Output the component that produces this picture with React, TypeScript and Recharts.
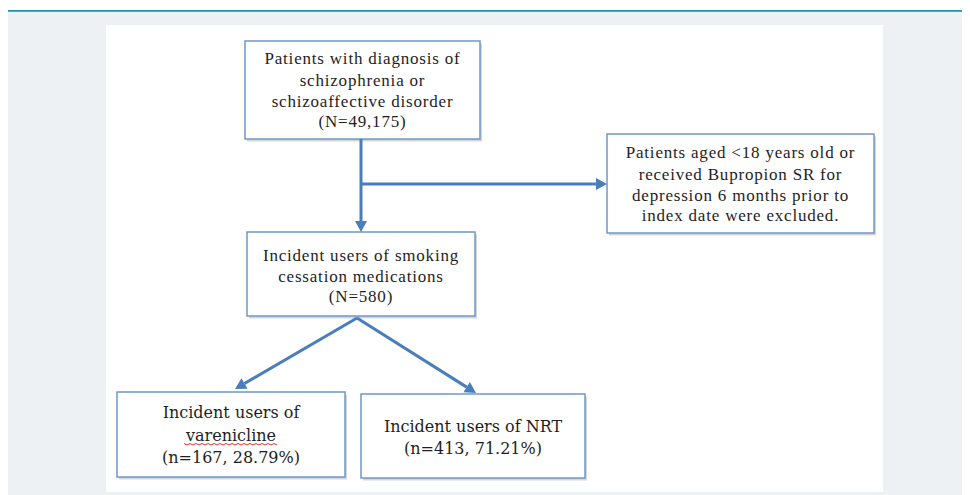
import { ComposedChart, XAxis, YAxis, ReferenceArea, ReferenceLine } from 'recharts'

// flowchart content
const cohortLabel = ['Patients with diagnosis of', 'schizophrenia or', 'schizoaffective disorder']
const cohortN = 49175
const exclusionLabel = [
  'Patients aged <18 years old or',
  'received Bupropion SR for',
  'depression 6 months prior to',
  'index date were excluded.',
]
const incidentLabel = ['Incident users of smoking', 'cessation medications']
const incidentN = 580
const armNames = ['varenicline', 'NRT']
const armCounts = [167, 413]
const armPercents = [28.79, 71.21]

const fmt = (n: number) => n.toLocaleString('en-US')

const W = 962
const H = 487
const SERIF = '"Liberation Serif", "Times New Roman", serif'
const CAMBRIA = '"DejaVu Serif", serif'
const ARROW = '#4a7ebb'
const BORDER = '#7097c8'

type BoxDef = {
  x1: number
  x2: number
  y1: number
  y2: number
  lines: string[]
  font: string
  size: number
  spacing: number
  base: number[] // baselines, offset from box top
  squiggle?: number // index of line with spell-check underline
}

const boxes: BoxDef[] = [
  {
    x1: 245, x2: 480, y1: 41, y2: 139,
    lines: [...cohortLabel, `(N=${fmt(cohortN)})`],
    font: SERIF, size: 17, spacing: 0.8, base: [22.5, 44.5, 65.5, 85.5],
  },
  {
    x1: 607, x2: 874, y1: 134, y2: 233,
    lines: exclusionLabel,
    font: SERIF, size: 17, spacing: 0.8, base: [24, 45.7, 67.3, 87],
  },
  {
    x1: 247, x2: 475, y1: 232, y2: 316,
    lines: [...incidentLabel, `(N=${fmt(incidentN)})`],
    font: SERIF, size: 17, spacing: 0.8, base: [28.5, 49.5, 69.5],
  },
  {
    x1: 117, x2: 345, y1: 392, y2: 477,
    lines: ['Incident users of', armNames[0], `(n=${armCounts[0]}, ${armPercents[0]}%)`],
    font: CAMBRIA, size: 16, spacing: 0, base: [26, 49, 71], squiggle: 1,
  },
  {
    x1: 361, x2: 585, y1: 394, y2: 478,
    lines: [`Incident users of ${armNames[1]}`, `(n=${armCounts[1]}, ${armPercents[1]}%)`],
    font: CAMBRIA, size: 16, spacing: 0, base: [38, 59.5],
  },
]

const arrows = [
  { from: { x: 361, y: 139 }, to: { x: 361, y: 232 } },
  { from: { x: 361, y: 184 }, to: { x: 607, y: 184 } },
  { from: { x: 357, y: 318 }, to: { x: 235, y: 389 } },
  { from: { x: 357, y: 318 }, to: { x: 476, y: 393 } },
]

function FlowBox(props: any) {
  const { x, y, width, height, def } = props
  const d = def as BoxDef
  const cx = x + width / 2
  return (
    <g>
      <rect x={x + 2} y={y + 2.5} width={width} height={height} fill="#000" fillOpacity={0.16} />
      <rect x={x} y={y} width={width} height={height} fill="#fff" stroke={BORDER} strokeWidth={1.5} />
      {d.lines.map((t, i) => (
        <text
          key={i}
          x={cx}
          y={y + d.base[i]}
          textAnchor="middle"
          fontFamily={d.font}
          fontSize={d.size}
          letterSpacing={d.spacing}
          fill="#1e1e1e"
        >
          {t}
        </text>
      ))}
      {d.squiggle !== undefined && (() => {
        const by = y + d.base[d.squiggle] + 2.5
        const half = 47
        const pts: string[] = []
        for (let k = 0; k <= 31; k++) {
          pts.push(`${cx - half + k * 3},${by + (k % 2 ? 1.5 : 0)}`)
        }
        return <polyline points={pts.join(' ')} fill="none" stroke="#e03030" strokeWidth={1} />
      })()}
    </g>
  )
}

function Arrow(props: any) {
  const { x1, y1, x2, y2 } = props
  const ang = Math.atan2(y2 - y1, x2 - x1)
  const len = 11
  const wid = 6
  const bx = x2 - len * Math.cos(ang)
  const by = y2 - len * Math.sin(ang)
  const px = -Math.sin(ang) * wid
  const py = Math.cos(ang) * wid
  return (
    <g>
      <line x1={x1} y1={y1} x2={bx} y2={by} stroke={ARROW} strokeWidth={3} />
      <polygon points={`${x2},${y2} ${bx + px},${by + py} ${bx - px},${by - py}`} fill={ARROW} />
    </g>
  )
}

export default function App() {
  return (
    <ComposedChart width={W} height={H} margin={{ top: 0, right: 0, bottom: 0, left: 0 }} data={[]}>
      <XAxis type="number" dataKey="x" domain={[8, 970]} hide allowDataOverflow />
      <YAxis type="number" dataKey="y" domain={[8, 495]} reversed hide allowDataOverflow width={0} />
      <ReferenceArea x1={8} x2={970} y1={10} y2={495} fill="#edf1f4" fillOpacity={1} stroke="none" />
      <ReferenceArea x1={8} x2={970} y1={10} y2={11.7} fill="#1f8fab" fillOpacity={1} stroke="none" />
      <ReferenceArea x1={106} x2={883} y1={25} y2={492} fill="#ffffff" fillOpacity={1} stroke="none" />
      {boxes.map((b, i) => (
        <ReferenceArea
          key={`box-${i}`}
          x1={b.x1}
          x2={b.x2}
          y1={b.y1}
          y2={b.y2}
          shape={(p: any) => <FlowBox {...p} def={b} />}
        />
      ))}
      {arrows.map((a, i) => (
        <ReferenceLine key={`arr-${i}`} segment={[a.from, a.to]} shape={(p: any) => <Arrow {...p} />} />
      ))}
    </ComposedChart>
  )
}
